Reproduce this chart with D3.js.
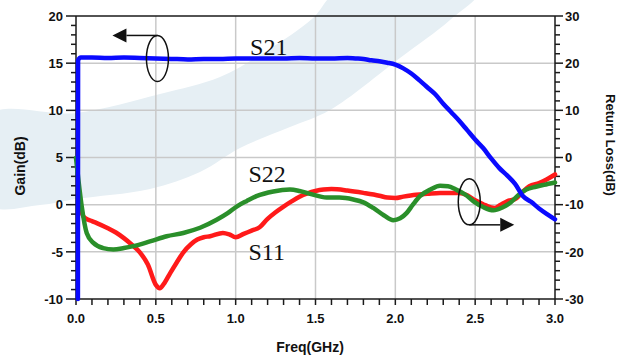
<!DOCTYPE html>
<html>
<head>
<meta charset="utf-8">
<script src="https://cdn.jsdelivr.net/npm/d3@7"></script>
<style>
  html, body { margin: 0; padding: 0; background: #ffffff; }
  svg { display: block; }
  text { font-family: "Liberation Sans", Arial, sans-serif; }
  text.trace-name { font-family: "Liberation Serif", "Times New Roman", serif; }
</style>
</head>
<body>
<svg id="chart" width="624" height="358"></svg>
<script>
// Frequency sweep (GHz) and measured S-parameters
const s21Freq = [0.012, 0.013, 0.03, 0.1, 0.2, 0.3, 0.4, 0.5, 0.6, 0.7, 0.8, 0.9, 1.0, 1.1, 1.2, 1.3, 1.4, 1.5, 1.6, 1.7, 1.75, 1.8, 1.85, 1.9, 1.95, 2.0, 2.05, 2.1, 2.15, 2.2, 2.25, 2.3, 2.35, 2.4, 2.45, 2.5, 2.55, 2.6, 2.65, 2.7, 2.75, 2.8, 2.85, 2.9, 2.95, 3.0];
const s21Gain = [-10, 15.3, 15.6, 15.6, 15.55, 15.6, 15.55, 15.5, 15.45, 15.4, 15.45, 15.45, 15.5, 15.5, 15.5, 15.5, 15.55, 15.5, 15.5, 15.55, 15.5, 15.45, 15.3, 15.2, 15.05, 14.85, 14.45, 13.9, 13.2, 12.45, 11.7, 10.7, 9.8, 8.9, 7.9, 6.9, 6.0, 4.9, 3.9, 3.1, 2.2, 0.9, 0.3, -0.4, -1.0, -1.55];

const s11Freq = [0.03, 0.045, 0.056, 0.1, 0.13, 0.2, 0.25, 0.3, 0.35, 0.4, 0.45, 0.5, 0.525, 0.55, 0.59, 0.63, 0.67, 0.72, 0.76, 0.8, 0.84, 0.92, 0.96, 1.0, 1.05, 1.1, 1.15, 1.2, 1.25, 1.3, 1.35, 1.4, 1.45, 1.5, 1.55, 1.6, 1.7, 1.8, 1.9, 1.95, 2.0, 2.05, 2.13, 2.2, 2.28, 2.4, 2.45, 2.49, 2.55, 2.6, 2.62, 2.66, 2.7, 2.76, 2.8, 2.84, 2.9, 2.95, 3.0];
const s11Loss = [-11.0, -12.4, -12.8, -13.5, -13.9, -15.0, -15.9, -17.1, -18.5, -20.1, -22.7, -27.0, -27.7, -26.8, -24.5, -22.3, -20.2, -18.4, -17.4, -16.9, -16.7, -16.0, -16.3, -16.9, -16.2, -15.5, -14.8, -13.0, -11.6, -10.4, -9.3, -8.3, -7.6, -7.1, -6.8, -6.7, -7.0, -7.5, -8.1, -8.5, -8.6, -8.3, -7.9, -7.7, -7.5, -7.5, -8.0, -8.9, -9.9, -10.6, -10.7, -10.0, -9.3, -8.6, -7.2, -6.1, -5.4, -4.6, -3.6];

const s22Freq = [0.0, 0.015, 0.036, 0.067, 0.109, 0.17, 0.234, 0.3, 0.359, 0.463, 0.568, 0.672, 0.777, 0.881, 0.95, 1.006, 1.07, 1.13, 1.236, 1.34, 1.4, 1.466, 1.57, 1.65, 1.737, 1.8, 1.862, 1.93, 1.987, 2.03, 2.07, 2.11, 2.154, 2.22, 2.28, 2.33, 2.38, 2.44, 2.49, 2.55, 2.615, 2.67, 2.72, 2.77, 2.82, 2.88, 2.93, 3.0];
const s22Loss = [-0.1, -4.7, -10.4, -16.0, -18.1, -19.2, -19.5, -19.2, -18.8, -17.8, -16.7, -16.0, -14.9, -13.2, -11.8, -10.4, -9.2, -8.2, -7.2, -6.8, -7.1, -7.7, -8.5, -8.5, -8.9, -9.5, -10.7, -12.3, -13.3, -12.9, -11.8, -10.0, -8.2, -6.8, -6.0, -6.1, -6.8, -7.9, -9.3, -10.5, -11.2, -10.6, -9.6, -8.0, -6.8, -6.2, -5.8, -5.3];

// Axis tick labels
const freqTicks = [0.0, 0.5, 1.0, 1.5, 2.0, 2.5, 3.0];
const gainTicks = [20, 15, 10, 5, 0, -5, -10];
const lossTicks = [30, 20, 10, 0, -10, -20, -30];

const svg = d3.select("#chart");
const plotL = 76, plotR = 555, plotT = 16, plotB = 299;

const x = d3.scaleLinear().domain([0, 3]).range([plotL, plotR]);
const yGain = d3.scaleLinear().domain([-10, 20]).range([plotB, plotT]);
const yLoss = d3.scaleLinear().domain([-30, 30]).range([plotB, plotT]);

// Pale background swoosh
const swoosh = [
  [-10, 115], [76, 113], [160, 94], [220, 77], [268, 50], [312, 19], [340, -10],
  [480, -10], [450, 20], [400, 58], [330, 110], [290, 127], [240, 148],
  [200, 172], [150, 189], [76, 199], [40, 205], [-10, 205]
];
svg.append("path")
  .attr("d", d3.line().curve(d3.curveCatmullRomClosed.alpha(0.5))(swoosh))
  .attr("fill", "#e6eff4");

// Grid
const grid = svg.append("g").attr("stroke", "#c9c9c9").attr("stroke-width", 1.5);
freqTicks.filter(d => d > 0 && d < 3).forEach(d => {
  grid.append("line").attr("x1", x(d)).attr("x2", x(d)).attr("y1", plotT).attr("y2", plotB);
});
gainTicks.filter(d => d > -10 && d < 20).forEach(d => {
  grid.append("line").attr("x1", plotL).attr("x2", plotR).attr("y1", yGain(d)).attr("y2", yGain(d));
});

// Axes frame and ticks
const axes = svg.append("g").attr("stroke", "#1a1a1a").attr("stroke-width", 1.5);
axes.append("line").attr("x1", plotL).attr("x2", plotR).attr("y1", plotT).attr("y2", plotT);
axes.append("line").attr("x1", plotL).attr("x2", plotR).attr("y1", plotB).attr("y2", plotB);
axes.append("line").attr("x1", plotL).attr("x2", plotL).attr("y1", plotT).attr("y2", plotB);
axes.append("line").attr("x1", plotR).attr("x2", plotR).attr("y1", plotT).attr("y2", plotB);

d3.range(-10, 21, 1).forEach(v => {
  const len = v % 5 === 0 ? 10 : 5;
  axes.append("line").attr("x1", plotL - len).attr("x2", plotL).attr("y1", yGain(v)).attr("y2", yGain(v));
});
d3.range(-30, 31, 2).forEach(v => {
  const len = v % 10 === 0 ? 8 : 5;
  axes.append("line").attr("x1", plotR).attr("x2", plotR + len).attr("y1", yLoss(v)).attr("y2", yLoss(v));
});
d3.range(0, 31, 1).forEach(i => {
  const f = i / 10;
  axes.append("line").attr("x1", x(f)).attr("x2", x(f)).attr("y1", plotB).attr("y2", plotB + 6);
});

const labels = svg.append("g")
  .attr("font-weight", "bold").attr("font-size", 13).attr("fill", "#111");
gainTicks.forEach(v => {
  labels.append("text").attr("x", plotL - 13).attr("y", yGain(v)).attr("dy", "0.36em")
    .attr("text-anchor", "end").text(v);
});
lossTicks.forEach(v => {
  labels.append("text").attr("x", plotR + 10).attr("y", yLoss(v)).attr("dy", "0.36em")
    .attr("text-anchor", "start").text(v);
});
freqTicks.forEach(v => {
  labels.append("text").attr("x", x(v)).attr("y", 323)
    .attr("text-anchor", "middle").text(v.toFixed(1));
});

svg.append("text").attr("transform", "translate(25,166) rotate(-90)")
  .attr("text-anchor", "middle").attr("font-weight", "bold").attr("font-size", 14)
  .attr("fill", "#111").text("Gain(dB)");
svg.append("text").attr("transform", "translate(606,145) rotate(90)")
  .attr("text-anchor", "middle").attr("font-weight", "bold").attr("font-size", 13)
  .attr("fill", "#111").text("Return Loss(dB)");
svg.append("text").attr("x", 310).attr("y", 352)
  .attr("text-anchor", "middle").attr("font-weight", "bold").attr("font-size", 14)
  .attr("fill", "#111").text("Freq(GHz)");

// Traces
const plot = svg.append("g");
const drawTrace = (fs, vs, yScale, color) => {
  const line = d3.line().x(d => x(d[0])).y(d => yScale(d[1])).curve(d3.curveMonotoneX);
  plot.append("path")
    .attr("d", line(d3.zip(fs, vs)))
    .attr("fill", "none").attr("stroke", color).attr("stroke-width", 4.5)
    .attr("stroke-linejoin", "round").attr("stroke-linecap", "round");
};
drawTrace(s11Freq, s11Loss, yLoss, "#ff1a1a");
drawTrace(s22Freq, s22Loss, yLoss, "#2a8f2a");
drawTrace(s21Freq, s21Gain, yGain, "#0a0aff");

// Trace annotations
const notes = svg.append("g").attr("font-size", 24).attr("fill", "#111");
notes.append("text").attr("class", "trace-name").attr("x", x(1.09)).attr("y", 55).text("S21");
notes.append("text").attr("class", "trace-name").attr("x", x(1.08)).attr("y", 182).text("S22");
notes.append("text").attr("class", "trace-name").attr("x", x(1.08)).attr("y", 260).text("S11");

// Axis indicators: ellipse around a trace with an arrow toward its axis
const marker = (cx, cy, dir) => {
  const g = svg.append("g");
  const rx = 11, ry = 23;
  g.append("ellipse").attr("cx", cx).attr("cy", cy).attr("rx", rx).attr("ry", ry)
    .attr("fill", "none").attr("stroke", "#111").attr("stroke-width", 1.5);
  const ay = dir < 0 ? cy - ry : cy + ry;
  const tip = cx + dir * 45;
  const base = tip - dir * 14;
  g.append("line").attr("x1", cx).attr("x2", base).attr("y1", ay).attr("y2", ay)
    .attr("stroke", "#111").attr("stroke-width", 1.5);
  g.append("path")
    .attr("d", `M${tip},${ay} L${base},${ay - 7} L${base},${ay + 7} Z`)
    .attr("fill", "#111");
};
marker(x(0.51), yGain(15.5), -1);
marker(x(2.463), yLoss(-9.4), 1);
</script>
</body>
</html>
